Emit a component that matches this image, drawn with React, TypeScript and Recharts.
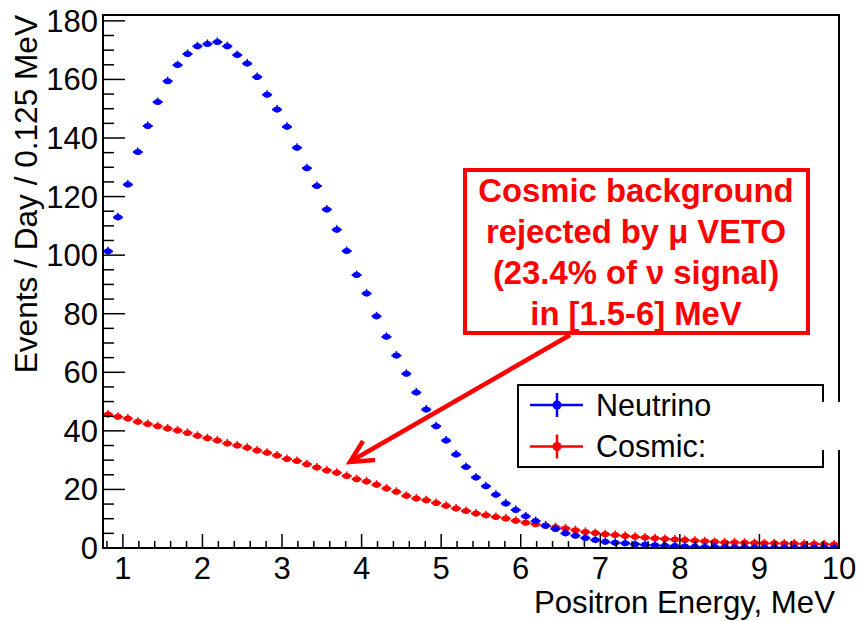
import React from 'react';
import { ScatterChart, Scatter, XAxis, YAxis, ErrorBar, ReferenceArea } from 'recharts';

const binCenters = [
  0.8125, 0.9375, 1.0625, 1.1875, 1.3125, 1.4375, 1.5625, 1.6875, 1.8125, 1.9375,
  2.0625, 2.1875, 2.3125, 2.4375, 2.5625, 2.6875, 2.8125, 2.9375, 3.0625, 3.1875,
  3.3125, 3.4375, 3.5625, 3.6875, 3.8125, 3.9375, 4.0625, 4.1875, 4.3125, 4.4375,
  4.5625, 4.6875, 4.8125, 4.9375, 5.0625, 5.1875, 5.3125, 5.4375, 5.5625, 5.6875,
  5.8125, 5.9375, 6.0625, 6.1875, 6.3125, 6.4375, 6.5625, 6.6875, 6.8125, 6.9375,
  7.0625, 7.1875, 7.3125, 7.4375, 7.5625, 7.6875, 7.8125, 7.9375, 8.0625, 8.1875,
  8.3125, 8.4375, 8.5625, 8.6875, 8.8125, 8.9375, 9.0625, 9.1875, 9.3125, 9.4375,
  9.5625, 9.6875, 9.8125, 9.9375,
];

const neutrino = [
  101.3, 112.9, 124.1, 135.2, 144.1, 152.3, 159.4, 164.9, 168.7, 171.3,
  172.1, 172.8, 171.3, 168.3, 165.4, 160.8, 154.8, 149.7, 143.8, 136.7,
  129.7, 123.6, 115.6, 108.7, 101.4, 93.2, 86.9, 79.1, 72.1, 65.7,
  59.5, 53.1, 47.3, 41.6, 36.7, 31.9, 27.7, 24.1, 21.1, 18.2,
  15.2, 13.0, 10.8, 9.2, 7.6, 6.5, 5.0, 4.2, 3.4, 2.7,
  2.1, 1.8, 1.6, 1.3, 1.1, 0.9, 0.8, 0.7, 0.5, 0.4,
  0.3, 0.3, 0.2, 0.2, 0.2, 0.1, 0.1, 0.1, 0.1, 0.1,
  0.1, 0.1, 0.1, 0.1,
];

const cosmic = [
  45.6, 44.8, 44.2, 43.1, 42.3, 41.6, 40.8, 40.1, 39.3, 38.3,
  37.5, 36.7, 35.7, 35.0, 34.2, 33.3, 32.5, 31.6, 30.4, 29.7,
  28.6, 27.5, 26.5, 25.7, 24.6, 23.5, 22.7, 21.6, 20.3, 19.2,
  17.8, 16.9, 16.3, 15.4, 14.4, 13.5, 12.6, 11.8, 11.2, 10.6,
  10.1, 9.3, 8.6, 8.1, 7.6, 7.1, 6.7, 6.1, 5.5, 5.1,
  4.7, 4.4, 4.1, 3.8, 3.6, 3.3, 3.1, 2.9, 2.7, 2.5,
  2.3, 2.1, 1.9, 1.9, 1.8, 1.7, 1.6, 1.6, 1.5, 1.5,
  1.4, 1.4, 1.3, 1.2,
];

const binHalfWidth = 0.0625;
const xTicks = [0.8, 1, 1.2, 1.4, 1.6, 1.8, 2, 2.2, 2.4, 2.6, 2.8, 3, 3.2, 3.4, 3.6, 3.8, 4, 4.2, 4.4, 4.6, 4.8, 5, 5.2, 5.4, 5.6, 5.8, 6, 6.2, 6.4, 6.6, 6.8, 7, 7.2, 7.4, 7.6, 7.8, 8, 8.2, 8.4, 8.6, 8.8, 9, 9.2, 9.4, 9.6, 9.8, 10];
const xLabels = [1, 2, 3, 4, 5, 6, 7, 8, 9, 10];
const yTicks = [0, 5, 10, 15, 20, 25, 30, 35, 40, 45, 50, 55, 60, 65, 70, 75, 80, 85, 90, 95, 100, 105, 110, 115, 120, 125, 130, 135, 140, 145, 150, 155, 160, 165, 170, 175, 180];
const yLabels = [0, 20, 40, 60, 80, 100, 120, 140, 160, 180];

const annotationLines = ['Cosmic background', 'rejected by \u03bc VETO', '(23.4% of \u03bd signal)', 'in [1.5-6] MeV'];
const legendItems = [
  { name: 'Neutrino', color: '#0000ff' },
  { name: 'Cosmic:', color: '#ff0000' },
];

const neutrinoData = binCenters.map((x, i) => ({ x, y: neutrino[i], ex: binHalfWidth }));
const cosmicData = binCenters.map((x, i) => ({ x, y: cosmic[i], ex: binHalfWidth }));

const FONT = '"Liberation Sans", Arial, Helvetica, sans-serif';

const XTick = (props: any) => {
  const { x, y, payload } = props;
  const v = Math.round(payload.value * 10) / 10;
  const major = xLabels.includes(v);
  return (
    <g>
      <line x1={x} x2={x} y1={y} y2={y - (major ? 14 : 7)} stroke="#000" strokeWidth={1.5} />
      {major && (
        <text x={x} y={y + 31} textAnchor="middle" fontSize={31} fontFamily={FONT} fill="#000">
          {v}
        </text>
      )}
    </g>
  );
};

const YTick = (props: any) => {
  const { x, y, payload } = props;
  const v = payload.value;
  const major = yLabels.includes(v);
  return (
    <g>
      <line x1={x} x2={x + (major ? 22 : 11)} y1={y} y2={y} stroke="#000" strokeWidth={1.5} />
      {major && (
        <text x={x - 5} y={y + 11} textAnchor="end" fontSize={31} fontFamily={FONT} fill="#000">
          {v}
        </text>
      )}
    </g>
  );
};

const makeMarker = (color: string) => (props: any) => {
  const { cx, cy } = props;
  if (cx == null || cy == null) return <g />;
  return (
    <g>
      <line x1={cx} x2={cx} y1={cy - 4.5} y2={cy + 3} stroke={color} strokeWidth={1.5} />
      <ellipse cx={cx} cy={cy} rx={4} ry={3} fill={color} />
    </g>
  );
};

export default function App() {
  return (
    <div style={{ position: 'absolute', left: 0, top: 0, width: 858, height: 621, background: '#fff' }}>
      <ScatterChart width={858} height={621} margin={{ top: 15, right: 19, bottom: 0, left: 0 }}>
        <XAxis
          type="number"
          dataKey="x"
          domain={[0.75, 10]}
          ticks={xTicks}
          interval={0}
          tickSize={0}
          tickMargin={0}
          height={73}
          allowDataOverflow
          axisLine={{ stroke: '#000', strokeWidth: 2 }}
          tick={<XTick />}
        />
        <YAxis
          type="number"
          dataKey="y"
          domain={[0, 182]}
          ticks={yTicks}
          interval={0}
          tickSize={0}
          tickMargin={0}
          width={103}
          allowDataOverflow
          axisLine={{ stroke: '#000', strokeWidth: 2 }}
          tick={<YTick />}
        />
        <ReferenceArea x1={0.75} x2={10} y1={0} y2={182} fill="none" stroke="#000" strokeWidth={2} ifOverflow="visible" />
        <Scatter data={cosmicData} isAnimationActive={false} shape={makeMarker('#ff0000')}>
          <ErrorBar dataKey="ex" direction="x" width={0} stroke="#ff0000" strokeWidth={2} isAnimationActive={false} />
        </Scatter>
        <Scatter data={neutrinoData} isAnimationActive={false} shape={makeMarker('#0000ff')}>
          <ErrorBar dataKey="ex" direction="x" width={0} stroke="#0000ff" strokeWidth={2} isAnimationActive={false} />
        </Scatter>
      </ScatterChart>
      <svg
        width={858}
        height={621}
        style={{ position: 'absolute', left: 0, top: 0, pointerEvents: 'none' }}
        fontFamily={FONT}
      >
        {/* axis titles */}
        <text x={835} y={613} textAnchor="end" fontSize={31.2} fill="#000">Positron Energy, MeV</text>
        <text transform="translate(37,15) rotate(-90)" textAnchor="end" fontSize={31.6} fill="#000">
          Events / Day / 0.125 MeV
        </text>
        {/* annotation box */}
        <rect x={465} y={170} width={343} height={163} fill="#fff" stroke="#ff0000" strokeWidth={4} />
        {annotationLines.map((t, i) => (
          <text key={t} x={636} y={202 + i * 41} textAnchor="middle" fontSize={32.8} fontWeight="bold" fill="#ff0000">
            {t}
          </text>
        ))}
        {/* arrow */}
        <line x1={570} y1={335} x2={353} y2={460} stroke="#ff0000" strokeWidth={4.5} />
        <polyline points="363,441 350,462 375,460" fill="none" stroke="#ff0000" strokeWidth={4.5} strokeLinejoin="miter" />
        {/* legend */}
        <rect x={518} y={385} width={305} height={82} fill="#fff" stroke="#000" strokeWidth={2} />
        {legendItems.map((item, i) => {
          const cy = 405 + i * 41.5;
          return (
            <g key={item.name}>
              <line x1={530} x2={583} y1={cy} y2={cy} stroke={item.color} strokeWidth={2.5} />
              <line x1={557} x2={557} y1={cy - 12} y2={cy + 12} stroke={item.color} strokeWidth={2.5} />
              <circle cx={557} cy={cy} r={4.5} fill={item.color} />
              <text x={596} y={cy + 10.5} fontSize={30.5} fill="#000">{item.name}</text>
            </g>
          );
        })}
        <rect x={712} y={402} width={136} height={48} fill="#fff" />
      </svg>
    </div>
  );
}
